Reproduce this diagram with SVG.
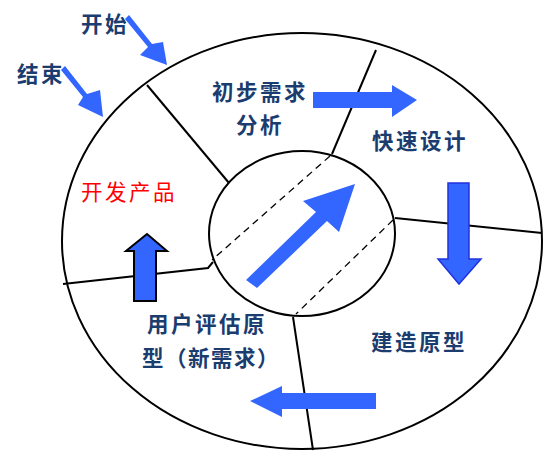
<svg xmlns="http://www.w3.org/2000/svg" width="546" height="456" viewBox="0 0 546 456">
<style>
.lbl{font-family:"Noto Sans CJK SC","Noto Sans",sans-serif;font-size:21.5px;letter-spacing:2.5px;fill:#1a3c6e;font-weight:bold}
.red{fill:#ff0000;font-weight:normal}
.ln{fill:none;stroke:#000;stroke-width:2}
.dash{fill:none;stroke:#000;stroke-width:1.3;stroke-dasharray:7 5}
.arr{fill:#3366ff;stroke:none}
</style>
<rect width="546" height="456" fill="#fff"/>
<g id="wheel">
<ellipse class="ln" cx="302" cy="241" rx="240" ry="208"/>
<ellipse class="ln" cx="302" cy="233.5" rx="93" ry="82.5"/>
<polyline class="ln" points="147,85 229,183"/>
<polyline class="ln" points="376,50 332,154"/>
<polyline class="ln" points="63,284 208,268 213,262"/>
<polyline class="ln" points="395,218 542,233"/>
<polyline class="ln" points="293,317 313,450"/>
<line class="dash" x1="330" y1="156" x2="212" y2="260"/>
<line class="dash" x1="393" y1="220" x2="296" y2="314"/>
</g>
<g id="start"><text class="lbl" x="81" y="31.5">开始</text></g>
<g id="end"><text class="lbl" x="17" y="81.5">结束</text></g>
<g id="analysis"><text class="lbl" x="212" y="99.5">初步需求</text><text class="lbl" x="236" y="132.5">分析</text></g>
<g id="design"><text class="lbl" x="372" y="148.5">快速设计</text></g>
<g id="build"><text class="lbl" x="371" y="350">建造原型</text></g>
<g id="product"><text class="lbl red" x="81" y="199.5">开发产品</text></g>
<g id="evaluate"><text class="lbl" x="147" y="331.5">用户评估原</text><text class="lbl" x="142" y="365.5" style="letter-spacing:1.5px">型（新需求）</text></g>
<g id="connectors">
<polygon class="arr" points="125,19 129,15 152,44 163,42 167,65 140,55 148,47"/>
<polygon class="arr" points="61,70 65,66 87,94 100,90 103,117 78,105 83,97"/>
<polygon class="arr" points="313,92 392,92 392,85 417,100 392,117 392,108 313,108"/>
<polygon fill="#3366ff" stroke="#2233dd" stroke-width="1.5" points="448,183 469,183 469,259 481,259 459,284 438,259 448,259"/>
<polygon fill="#3366ff" stroke="#000" stroke-width="2" points="134,301 156,301 156,251 167,251 147,234 126,251 134,251"/>
<polygon class="arr" points="376,393 282,393 282,386 250,401 282,417 282,409 376,409"/>
<polygon class="arr" points="246,280 257,288 327,221 339,232 355,184 303,201 316,212"/>
</g>
</svg>
